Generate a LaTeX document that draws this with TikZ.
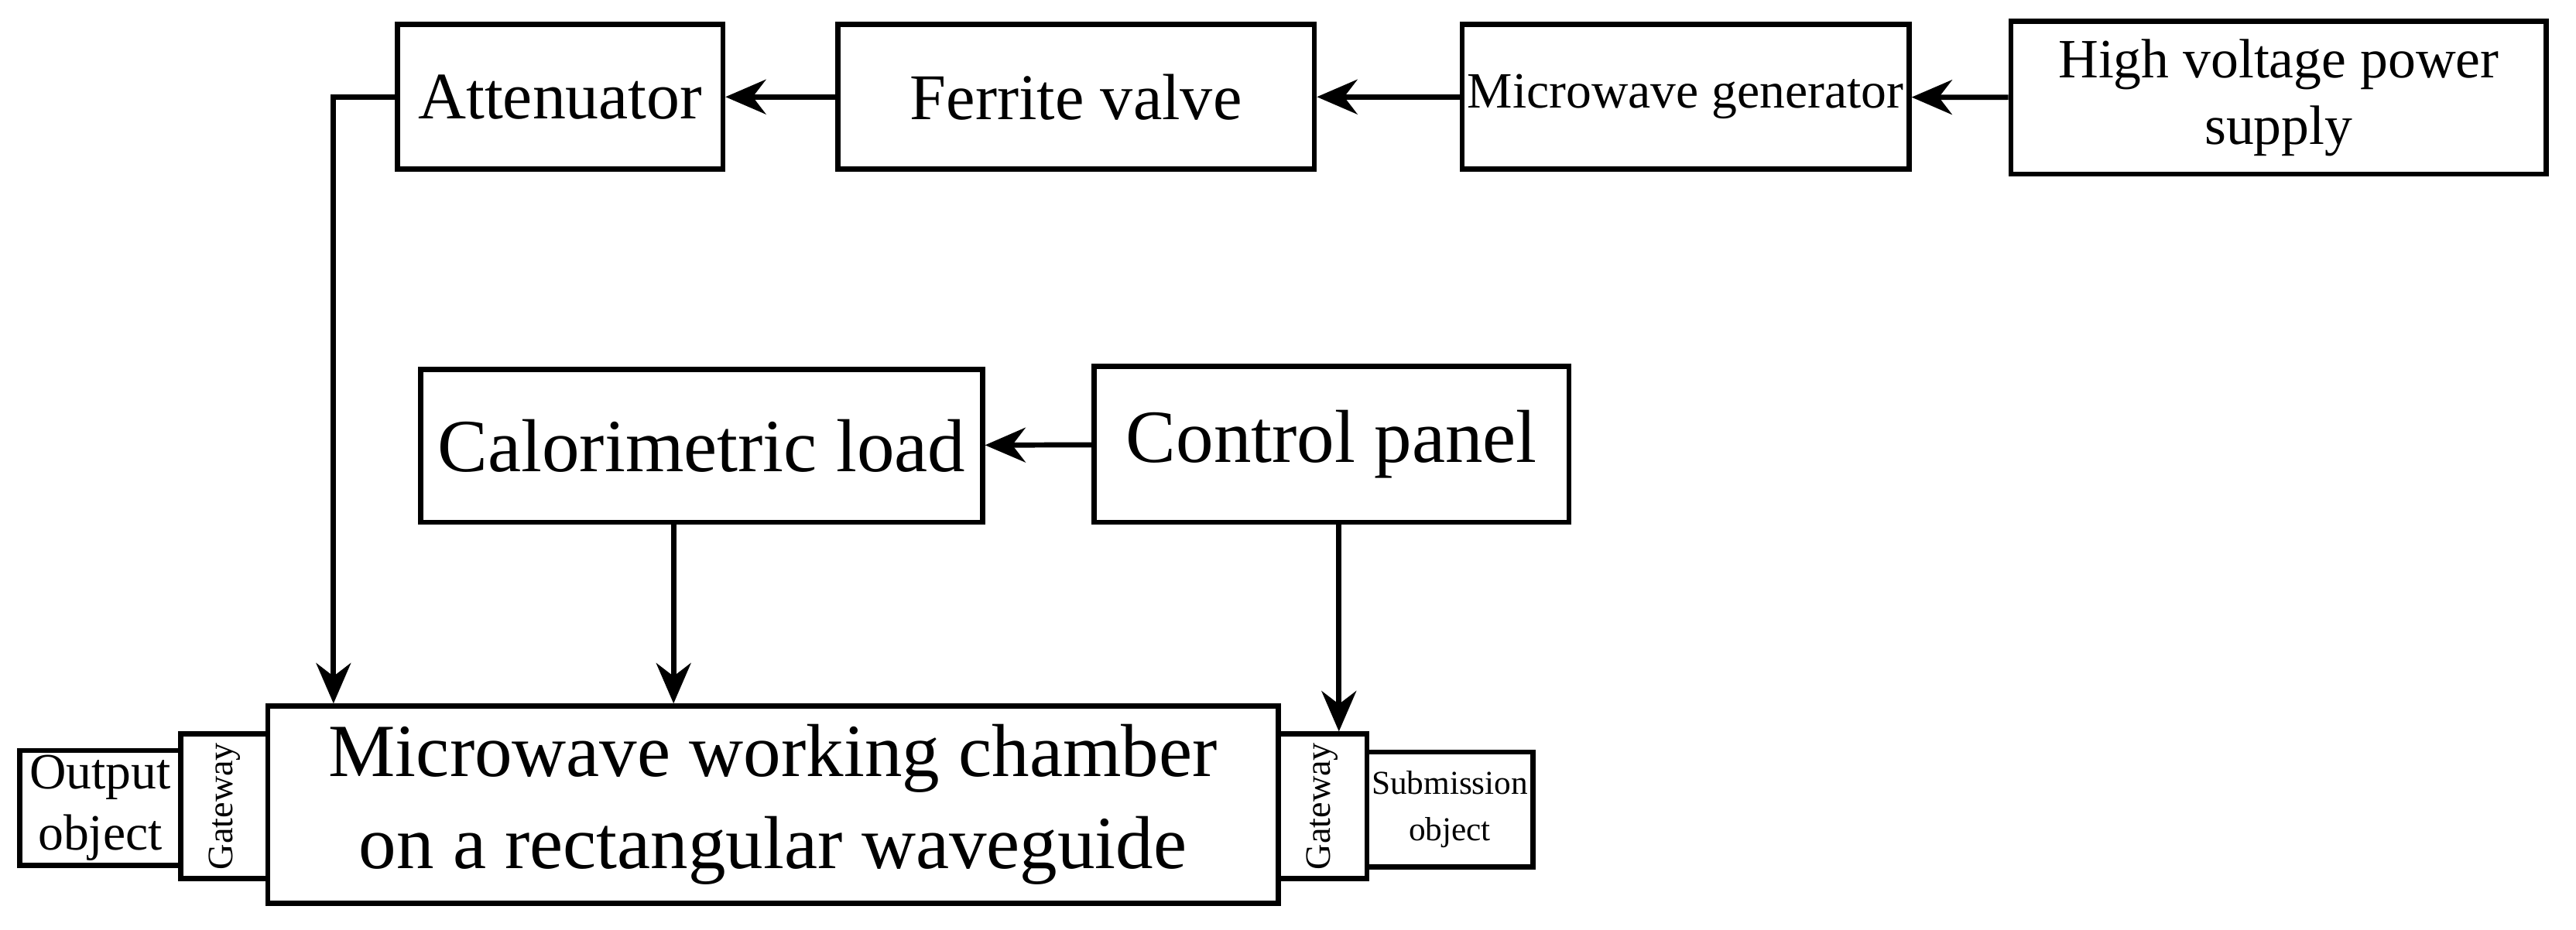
\documentclass[tikz,border=0pt]{standalone}
\usepackage{fontspec}
\setmainfont{Liberation Serif}
\usetikzlibrary{arrows.meta}
\begin{document}
\begin{tikzpicture}[x=0.01cm,y=-0.01cm,
  bx/.style={draw,line width=0.9pt,inner sep=0pt,align=center},
  ar/.style={line width=0.9pt,-{Stealth[length=7pt,width=6pt]}}]
\useasboundingbox (0,0) rectangle (1568,566);
\node[bx,minimum width=198*0.01cm,minimum height=88*0.01cm,font=\fontsize{11.5}{13}\selectfont] (att) at (341,59) {Attenuator};
\node[bx,minimum width=290*0.01cm,minimum height=88*0.01cm,font=\fontsize{11.3}{13}\selectfont] (fer) at (655,59) {Ferrite valve};
\node[bx,minimum width=272*0.01cm,minimum height=88*0.01cm,font=\fontsize{8.8}{10}\selectfont] (gen) at (1026,59) {Microwave generator};
\node[bx,minimum width=326*0.01cm,minimum height=93*0.01cm,font=\fontsize{9.6}{11.5}\selectfont] (hv) at (1387,59.5) {High voltage power\\supply};
\node[bx,minimum width=342*0.01cm,minimum height=93*0.01cm,font=\fontsize{13}{15}\selectfont] (cal) at (427,271.5) {Calorimetric load};
\node[bx,minimum width=289*0.01cm,minimum height=95*0.01cm,font=\fontsize{13}{15}\selectfont] (cp) at (810.5,270.5) {Control panel};
\node[bx,minimum width=615*0.01cm,minimum height=120*0.01cm,font=\fontsize{13}{16}\selectfont] (ch) at (470.5,490) {Microwave working chamber\\on a rectangular waveguide};
\node[bx,minimum width=53*0.01cm,minimum height=88*0.01cm] (gl) at (136.5,491) {};
\node[rotate=90,font=\fontsize{6.2}{7}\selectfont] at (gl) {Gateway};
\node[bx,minimum width=98*0.01cm,minimum height=70*0.01cm,font=\fontsize{8.8}{10.5}\selectfont] (out) at (61,492) {Output\\object};
\node[bx,minimum width=54*0.01cm,minimum height=88*0.01cm] (gr) at (805,491) {};
\node[rotate=90,font=\fontsize{6.2}{7}\selectfont] at (gr) {Gateway};
\node[bx,minimum width=101*0.01cm,minimum height=70*0.01cm,font=\fontsize{5.8}{8}\selectfont] (sub) at (882.5,493) {Submission\\object};
\draw[ar] (hv) -- (gen);
\draw[ar] (gen) -- (fer);
\draw[ar] (fer) -- (att);
\draw[ar] (att.west) -| (ch.north -| 203,0);
\draw[ar] (cp) -- (cal);
\draw[ar] (cal.south -| 410,0) -- (ch.north -| 410,0);
\draw[ar] (cp.south -| 815,0) -- (gr.north -| 815,0);
\end{tikzpicture}
\end{document}
